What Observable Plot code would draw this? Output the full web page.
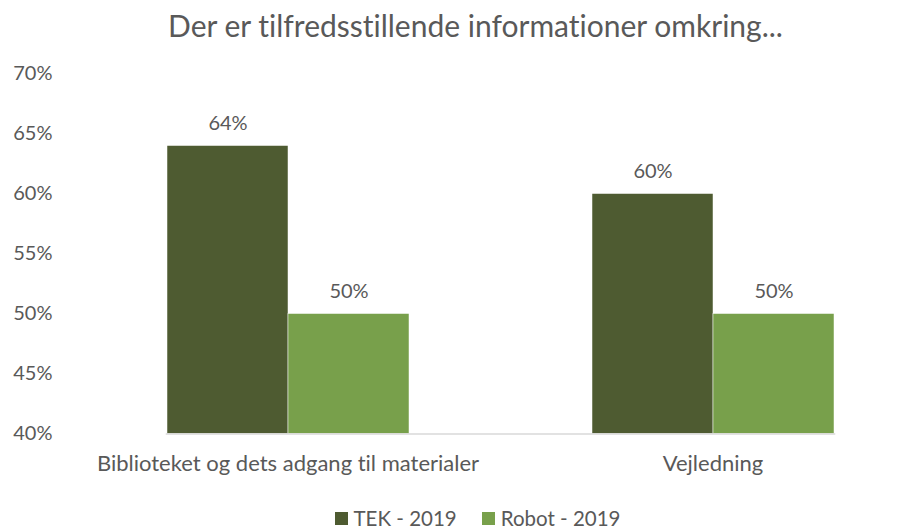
<!DOCTYPE html>
<html><head><meta charset="utf-8">
<script src="https://cdn.jsdelivr.net/npm/d3@7"></script>
<script src="https://cdn.jsdelivr.net/npm/@observablehq/plot@0.6"></script>
<style>
body{margin:0;background:#fff;font-family:Lato,sans-serif;color:#595959;font-variant-ligatures:none}
#wrap{position:relative;width:910px;height:529px;overflow:hidden}
#title{position:absolute;top:0;left:41px;width:869px;height:50px;line-height:50px;text-align:center;font-size:30px}
#chart{position:absolute;top:50px;left:0}
#chart svg text{font-variant-ligatures:none}
#legend{position:absolute;top:506px;left:45px;width:865px;height:24px;display:flex;justify-content:center;align-items:center;font-size:20.5px;gap:25px}
.item{display:flex;align-items:center;gap:6px}
.sw{width:13px;height:13px;display:inline-block}
</style></head>
<body>
<div id="wrap">
<div id="title"></div>
<div id="chart"></div>
<div id="legend"></div>
</div>
<script>
const title = "Der er tilfredsstillende informationer omkring...";
const categories = ["Biblioteket og dets adgang til materialer", "Vejledning"];
const series = ["TEK - 2019", "Robot - 2019"];
const tekValues = [0.64, 0.60];
const robotValues = [0.50, 0.50];
const colors = ["#4e5b31", "#78a04b"];
const yTicks = [0.40, 0.45, 0.50, 0.55, 0.60, 0.65, 0.70];

const rows = categories.flatMap((c, i) => [
  {category: c, series: series[0], value: tekValues[i]},
  {category: c, series: series[1], value: robotValues[i]}
]);
const pct = d3.format(".0%");

document.getElementById("title").textContent = title;

const chart = Plot.plot({
  width: 910, height: 440,
  marginTop: 23.5, marginBottom: 56.5, marginLeft: 75, marginRight: 0,
  style: {fontFamily: "Lato, sans-serif", fontSize: "20px", color: "#595959", background: "white"},
  fx: {domain: categories, range: [75, 925], paddingInner: 0.428, paddingOuter: 0.214, label: null},
  x: {domain: series, padding: 0, axis: null},
  y: {domain: [0.4, 0.7], axis: null},
  color: {domain: series, range: colors},
  marks: [
    Plot.barY(rows, {fx: "category", x: "series", y1: 0.4, y2: "value", fill: "series", stroke: "white", strokeWidth: 0.5}),
    Plot.frame({anchor: "bottom", stroke: "#d9d9d9", strokeWidth: 1.5, facet: "super"}),
    Plot.text(rows, {fx: "category", x: "series", y: "value", text: d => pct(d.value), dy: -22, fill: "#595959"}),
    Plot.axisY({ticks: yTicks, tickFormat: pct, tickSize: 0, tickPadding: 114, label: null, fill: "#595959"}),
    Plot.axisFx({anchor: "bottom", tickSize: 0, tickPadding: 21, label: null, fill: "#595959", fontSize: 22})
  ]
});
document.getElementById("chart").appendChild(chart);

const legend = document.getElementById("legend");
series.forEach((s, i) => {
  const item = document.createElement("div");
  item.className = "item";
  const sw = document.createElement("span");
  sw.className = "sw";
  sw.style.background = colors[i];
  const t = document.createElement("span");
  t.textContent = s;
  item.appendChild(sw);
  item.appendChild(t);
  legend.appendChild(item);
});
</script>
</body></html>
